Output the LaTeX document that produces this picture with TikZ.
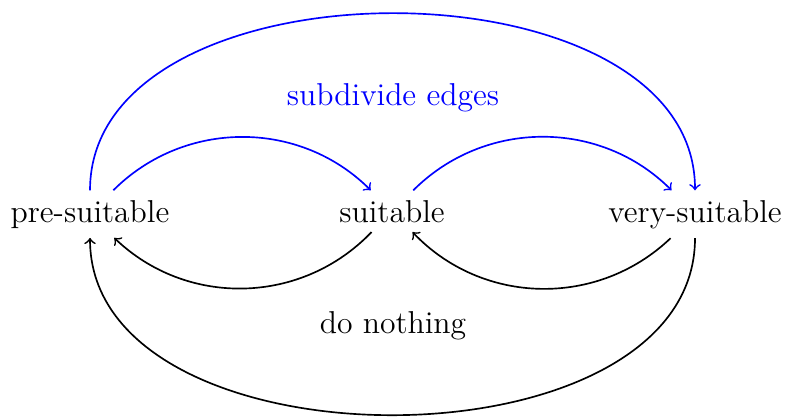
\documentclass[tikz,border=0pt]{standalone}
\begin{document}
\begin{tikzpicture}[x=0.36pt,y=0.36pt,
  state/.style={inner sep=3.3pt, anchor=base, font=\fontsize{11.4}{14}\selectfont},
  fwd/.style={->, blue, semithick},
  back/.style={->, black, semithick},
  lbl/.style={inner sep=0pt, font=\fontsize{11.4}{14}\selectfont}]
\useasboundingbox (0,0) rectangle (785,-417);
\node[state] (pre) at (90,-222) {pre-suitable};
\node[state] (suit) at (392,-222) {suitable};
\node[state] (very) at (695,-222) {very-suitable};
\draw[fwd] (pre) to[bend left=45] (suit);
\draw[fwd] (suit) to[bend left=45] (very);
\draw[fwd] (pre) to[out=90,in=90,looseness=1] (very);
\draw[back] (suit) to[bend left=45] (pre);
\draw[back] (very) to[bend left=45] (suit);
\draw[back] (very) to[out=-90,in=-90,looseness=1] (pre);
\node[lbl, blue] (sub) at (393,-98) {subdivide edges};
\node[lbl] (nothing) at (393,-326) {do nothing};
\end{tikzpicture}
\end{document}
